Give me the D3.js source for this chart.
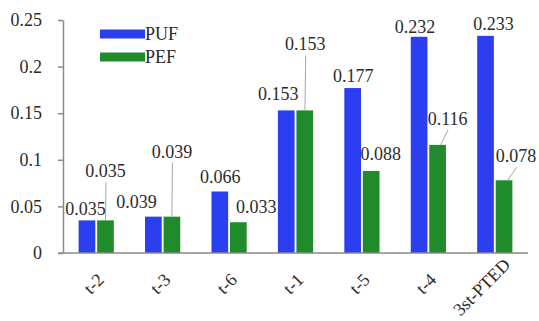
<!DOCTYPE html>
<html>
<head>
<meta charset="utf-8">
<script src="https://cdn.jsdelivr.net/npm/d3@7/dist/d3.min.js"></script>
<style>
  html, body { margin: 0; padding: 0; background: #fff; }
  svg { display: block; }
  svg text { font-family: "Liberation Serif", Tinos, "Times New Roman" !important; fill: #2b2b2b; }
</style>
</head>
<body>
<svg id="chart" width="539" height="321"></svg>
<script>
// Categories and series values
const categories = ["t-2", "t-3", "t-6", "t-1", "t-5", "t-4", "3st-PTED"];
const seriesNames = ["PUF", "PEF"];
const pufValues = [0.035, 0.039, 0.066, 0.153, 0.177, 0.232, 0.233];
const pefValues = [0.035, 0.039, 0.033, 0.153, 0.088, 0.116, 0.078];
const yTicks = [0, 0.05, 0.1, 0.15, 0.2, 0.25];
const yTickLabels = ["0", "0.05", "0.1", "0.15", "0.2", "0.25"];

const colors = { PUF: "#2b3ff0", PEF: "#1f8b2b" };
const FONT = "'Liberation Serif', Tinos, 'Times New Roman'";

// Placement of value labels relative to the top-centre of their bar (px),
// and whether a leader line joins label and bar.
const pufLabelOffset = [[-1.5, -5], [-17, -9], [0.5, -8.5], [-8, -10], [0.5, -6.5], [-4, -4], [8, -6]];
const pefLabelOffset = [[0, -43, true], [0, -59, true], [18, -9], [0.5, -60, true], [9.5, -11], [10, -20, true], [12, -18, true]];

const svg = d3.select("#chart");
const margin = { left: 63, right: 11, top: 20, bottom: 68 };
const W = 539, H = 321;

const x0 = d3.scaleBand()
  .domain(categories)
  .range([margin.left, W - margin.right])
  .paddingInner(0.47)
  .paddingOuter(0.235);

const x1 = d3.scaleBand()
  .domain(seriesNames)
  .range([0, x0.bandwidth()])
  .paddingInner(0.1);

const y = d3.scaleLinear()
  .domain([0, 0.25])
  .range([H - margin.bottom, margin.top]);

const rows = categories.map((c, i) => ({ cat: c, PUF: pufValues[i], PEF: pefValues[i] }));

// Bars
const groups = svg.append("g").selectAll("g")
  .data(rows)
  .join("g")
  .attr("transform", d => `translate(${x0(d.cat)},0)`);

groups.selectAll("rect")
  .data(d => seriesNames.map(s => ({ s, v: d[s] })))
  .join("rect")
  .attr("x", d => x1(d.s))
  .attr("width", x1.bandwidth())
  .attr("y", d => y(d.v))
  .attr("height", d => y(0) - y(d.v))
  .attr("fill", d => colors[d.s]);

// Axes
const yAxis = d3.axisLeft(y)
  .tickValues(yTicks)
  .tickFormat((d, i) => yTickLabels[i])
  .tickSize(5)
  .tickSizeOuter(0)
  .tickPadding(16);

const gy = svg.append("g")
  .attr("transform", `translate(${margin.left},0)`)
  .call(yAxis)
  .attr("font-family", FONT)
  .attr("font-size", 18);
gy.select(".domain").attr("stroke", "#8a8a8a").attr("stroke-width", 1.5);
gy.selectAll(".tick line").attr("stroke", "#8a8a8a").attr("stroke-width", 1.5);

// Category axis line
svg.append("line")
  .attr("x1", margin.left - 5)
  .attr("x2", W - margin.right)
  .attr("y1", y(0))
  .attr("y2", y(0))
  .attr("stroke", "#8a8a8a")
  .attr("stroke-width", 1.5);

// Rotated category labels; longer labels are nudged up along the axis
// so they stay inside the frame.
const catLabels = svg.append("g").selectAll("text")
  .data(categories)
  .join("text")
  .attr("text-anchor", "end")
  .attr("font-family", FONT)
  .attr("font-size", 18)
  .text(d => d);
catLabels.attr("transform", function (d) {
  const extra = Math.max(0, this.getComputedTextLength() - 20);
  const cx = x0(d) + x0.bandwidth() / 2 + 9 + extra * 0.145;
  const cy = y(0) + 28 - extra * 0.29;
  return `translate(${cx},${cy}) rotate(-45)`;
});

// Value labels with leader lines
function drawLabels(values, offsets, series) {
  const g = svg.append("g");
  values.forEach((v, i) => {
    const bx = x0(categories[i]) + x1(series) + x1.bandwidth() / 2;
    const by = y(v);
    const [dx, dy, leader] = offsets[i];
    const lx = bx + dx, ly = by + dy;
    if (leader) {
      g.append("line")
        .attr("x1", lx + 0.5)
        .attr("y1", ly + 5)
        .attr("x2", bx + dx * 0.3)
        .attr("y2", by)
        .attr("stroke", "#a6a6a6")
        .attr("stroke-width", 1);
    }
    g.append("text")
      .attr("x", lx)
      .attr("y", ly)
      .attr("text-anchor", "middle")
      .attr("font-family", FONT)
      .attr("font-size", 18)
      .text(String(v));
  });
}
drawLabels(pufValues, pufLabelOffset, "PUF");
drawLabels(pefValues, pefLabelOffset, "PEF");

// Legend
const legend = svg.append("g");
seriesNames.forEach((s, i) => {
  legend.append("rect")
    .attr("x", 100)
    .attr("y", 29.5 + i * 23)
    .attr("width", 45)
    .attr("height", 9)
    .attr("fill", colors[s]);
  legend.append("text")
    .attr("x", 145)
    .attr("y", 40 + i * 23)
    .attr("font-family", FONT)
    .attr("font-size", 18)
    .text(s);
});
</script>
</body>
</html>
